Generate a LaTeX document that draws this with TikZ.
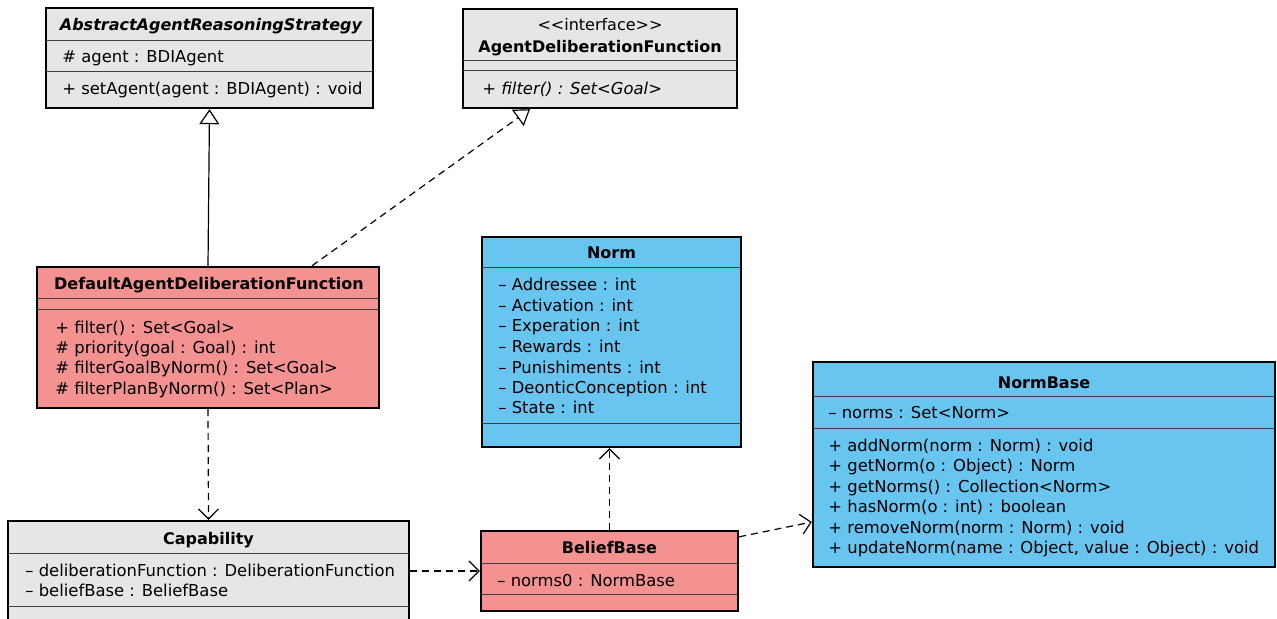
\documentclass[tikz,border=0pt]{standalone}
\usepackage{fontspec}
\setmainfont{DejaVu Sans}
\usetikzlibrary{arrows.meta,fit}

\definecolor{classgray}{RGB}{230,230,230}
\definecolor{classred}{RGB}{244,145,145}
\definecolor{classblue}{RGB}{104,197,240}

\tikzset{
  classbox/.style={draw=black,line width=1.2pt,inner sep=0pt},
  divider/.style={draw=black!75,line width=0.5pt},
  title/.style={font=\fontsize{8}{10}\selectfont\bfseries,anchor=base,inner sep=0pt},
  member/.style={font=\fontsize{8.2}{10}\selectfont,anchor=base west,inner sep=0pt},
  inherit/.style={-{Triangle[open,length=7.5pt,width=10pt]},line width=0.6pt},
  realize/.style={inherit,dash pattern=on 3.5pt off 2.5pt},
  depend/.style={-{Straight Barb[length=5pt,width=10pt]},line width=0.6pt,dash pattern=on 3.5pt off 2.5pt},
}

\begin{document}
\begin{tikzpicture}[x=0.5pt,y=-0.5pt]
  \useasboundingbox (0,0) rectangle (1277,619);
  \clip (0,0) rectangle (1277,619);

  % abstract strategy
  \node[classbox,fill=classgray,fit={(46,8) (373,108)}] (abs) {};
  \draw[divider] (46,41) -- (373,41);
  \draw[divider] (46,72) -- (373,72);
  \node[title] (abstitle) at (211,31) {\itshape AbstractAgentReasoningStrategy};
  \node[member] (absattr) at (62,63) {\# agent : BDIAgent};
  \node[member] (absop) at (62,95) {+ setAgent(agent : BDIAgent) : void};

  % interface
  \node[classbox,fill=classgray,fit={(463,9) (737,108)}] (intf) {};
  \draw[divider] (463,61) -- (737,61);
  \draw[divider] (463,71) -- (737,71);
  \node[title] (intfstereo) at (600,31) {\mdseries <{}<interface>{}>};
  \node[title] (intftitle) at (600,53) {AgentDeliberationFunction};
  \node[member] (intfop) at (482,95) {\itshape + filter() : Set<Goal>};

  % default deliberation function
  \node[classbox,fill=classred,fit={(37,267) (379,408)}] (def) {};
  \draw[divider] (37,299) -- (379,299);
  \draw[divider] (37,310) -- (379,310);
  \node[title] (deftitle) at (209,290) {DefaultAgentDeliberationFunction};
  \foreach \txt [count=\i from 0] in {{+ filter() : Set<Goal>},{\# priority(goal : Goal) : int},
      {\# filterGoalByNorm() : Set<Goal>},{\# filterPlanByNorm() : Set<Plan>}}
    \node[member] (defop\i) at (55,334+20*\i) {\txt};

  % norm
  \node[classbox,fill=classblue,fit={(482,237) (741,447)}] (norm) {};
  \draw[divider] (482,268) -- (741,268);
  \draw[divider] (482,423) -- (741,423);
  \node[title] (normtitle) at (611.5,259) {Norm};
  \foreach \txt [count=\i from 0] in {{– Addressee : int},{– Activation : int},{– Experation : int},
      {– Rewards : int},{– Punishiments : int},{– DeonticConception : int},{– State : int}}
    \node[member] (normattr\i) at (498,291+20.5*\i) {\txt};

  % norm base
  \node[classbox,fill=classblue,fit={(813,362) (1275,567)}] (nb) {};
  \draw[divider] (813,397) -- (1275,397);
  \draw[divider] (813,428) -- (1275,428);
  \node[title] (nbtitle) at (1044,388) {NormBase};
  \node[member] (nbattr) at (828,418) {– norms : Set<Norm>};
  \foreach \txt [count=\i from 0] in {{+ addNorm(norm : Norm) : void},{+ getNorm(o : Object) : Norm},
      {+ getNorms() : Collection<Norm>},{+ hasNorm(o : int) : boolean},{+ removeNorm(norm : Norm) : void},
      {+ updateNorm(name : Object, value : Object) : void}}
    \node[member] (nbop\i) at (828,451+20.5*\i) {\txt};

  % capability
  \node[classbox,fill=classgray,fit={(8,521) (409,640)}] (cap) {};
  \draw[divider] (8,553) -- (409,553);
  \draw[divider] (8,606) -- (409,606);
  \node[title] (captitle) at (208.5,544) {Capability};
  \node[member] (capattr0) at (25,576) {– deliberationFunction : DeliberationFunction};
  \node[member] (capattr1) at (25,596) {– beliefBase : BeliefBase};

  % belief base
  \node[classbox,fill=classred,fit={(481,531) (738,611)}] (bb) {};
  \draw[divider] (481,563) -- (738,563);
  \draw[divider] (481,594) -- (738,594);
  \node[title] (bbtitle) at (609.5,553) {BeliefBase};
  \node[member] (bbattr) at (497,586) {– norms0 : NormBase};

  % relations
  \draw[inherit] (def.north) -- (abs.south);
  \draw[realize] ([shift={(104,0)}]def.north) -- ([shift={(-70,0)}]intf.south);
  \draw[depend] (def.south) -- (cap.north);
  \draw[depend] (cap.east |- bb.west) -- (bb.west);
  \draw[depend] (bb.north) -- (bb.north |- norm.south);
  \draw[depend] ([shift={(0,7)}]bb.north east) -- ([shift={(0,57.5)}]nb.west);
\end{tikzpicture}
\end{document}
